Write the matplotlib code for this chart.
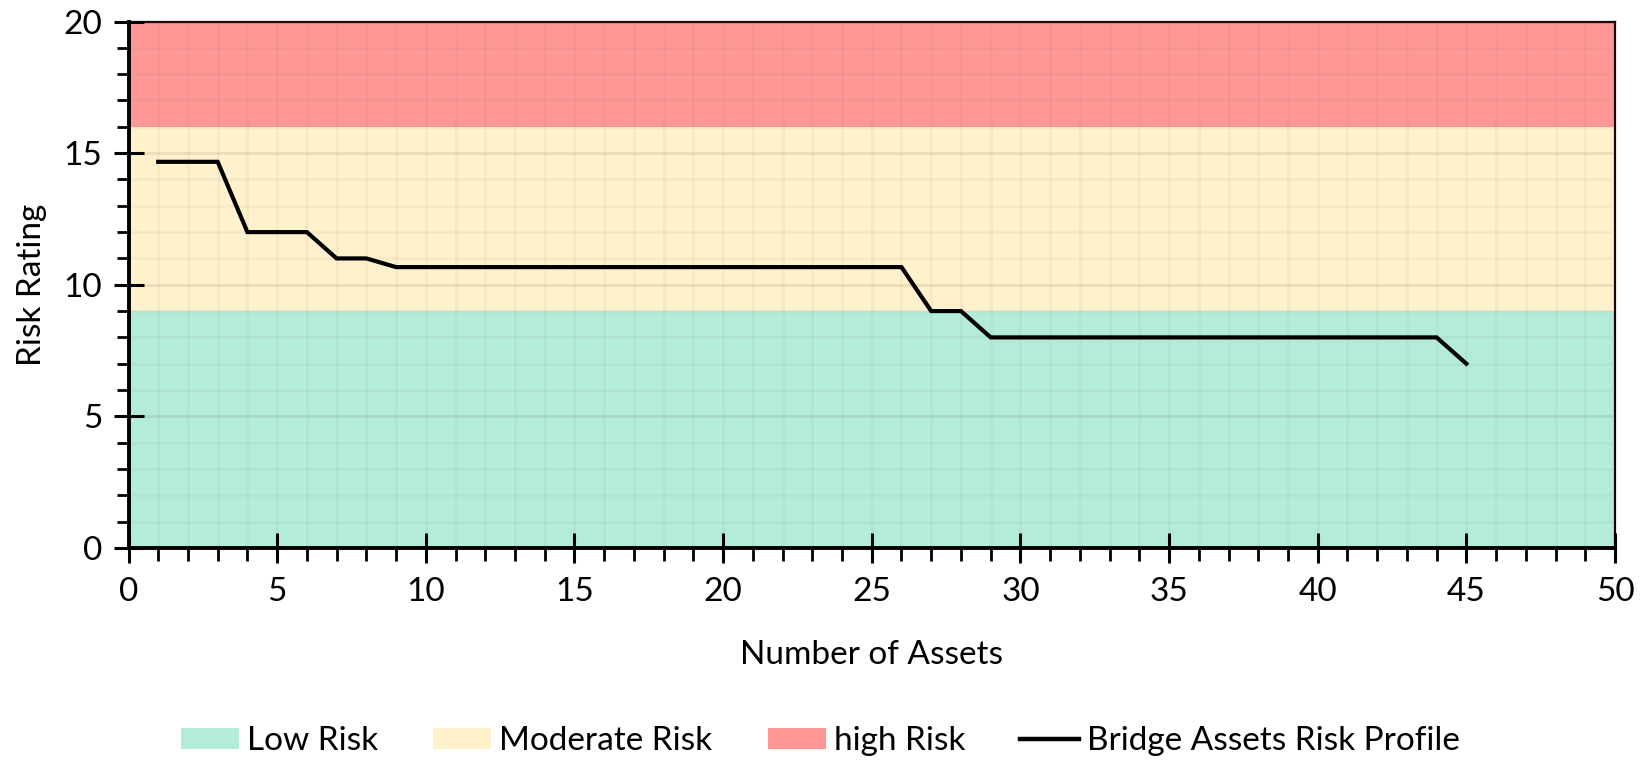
import matplotlib
matplotlib.use("Agg")
import matplotlib.pyplot as plt
from matplotlib.patches import Patch
from matplotlib.lines import Line2D
from matplotlib.ticker import MultipleLocator

plt.rcParams['font.family'] = ['Lato', 'DejaVu Sans']

# Data
assets = list(range(1, 46))
risk = [14.67, 14.67, 14.67,
        12, 12, 12,
        11, 11,
        10.67, 10.67, 10.67, 10.67, 10.67, 10.67, 10.67, 10.67, 10.67,
        10.67, 10.67, 10.67, 10.67, 10.67, 10.67, 10.67, 10.67, 10.67,
        9, 9,
        8, 8, 8, 8, 8, 8, 8, 8, 8, 8, 8, 8, 8, 8, 8, 8,
        7]
band_names = ["Low Risk", "Moderate Risk", "high Risk"]
band_lower = [0, 9, 16]
band_upper = [9, 16, 20]
band_colors = ["#b4ecdb", "#fff1cc", "#ff9797"]
line_label = "Bridge Assets Risk Profile"

fig = plt.figure(figsize=(16.5, 7.6), dpi=100)
ax = fig.add_axes([128.5/1650, 1 - 548/760, (1615-128.5)/1650, (548-21.5)/760])

for lo, hi, c in zip(band_lower, band_upper, band_colors):
    ax.axhspan(lo, hi, color=c, lw=0, zorder=0)

ax.set_xlim(0, 50)
ax.set_ylim(0, 20)
ax.xaxis.set_major_locator(MultipleLocator(5))
ax.xaxis.set_minor_locator(MultipleLocator(1))
ax.yaxis.set_major_locator(MultipleLocator(5))
ax.yaxis.set_minor_locator(MultipleLocator(1))

ax.grid(which='minor', color='#8a7a60', alpha=0.07, lw=2.0, zorder=1)
ax.grid(which='major', axis='y', color='#6a6a50', alpha=0.14, lw=2.0, zorder=1)
ax.grid(which='major', axis='x', color='#8a7a60', alpha=0.07, lw=2.0, zorder=1)
ax.set_axisbelow(False)

ax.plot(assets, risk, color='black', lw=3.0, zorder=3, solid_joinstyle='miter')

for s in ['left', 'bottom']:
    ax.spines[s].set_linewidth(2.8)
    ax.spines[s].set_zorder(4)
for s in ['top', 'right']:
    ax.spines[s].set_linewidth(1.6)
    ax.spines[s].set_color('#1a0000')

ax.tick_params(axis='both', which='major', direction='inout', length=22, width=2.2,
               labelsize=24, pad=4)
ax.tick_params(axis='both', which='minor', direction='out', length=9, width=2.0)
ax.tick_params(axis='x', which='major', pad=10)
ax.tick_params(axis='y', which='major', pad=8)

ax.set_xlabel("Number of Assets", fontsize=24, labelpad=24)
ax.set_ylabel("Risk Rating", fontsize=24, labelpad=12)

handles = [Patch(facecolor=c, edgecolor='none') for c in band_colors]
handles.append(Line2D([0], [0], color='black', lw=3.2))
fig.legend(handles, band_names + [line_label], loc='center', ncol=4,
           bbox_to_anchor=(0.497, 1 - 741/760), frameon=False, fontsize=24,
           handlelength=1.75, handleheight=0.6, handletextpad=0.24, columnspacing=1.65)

fig.savefig("out.png", dpi=100)
